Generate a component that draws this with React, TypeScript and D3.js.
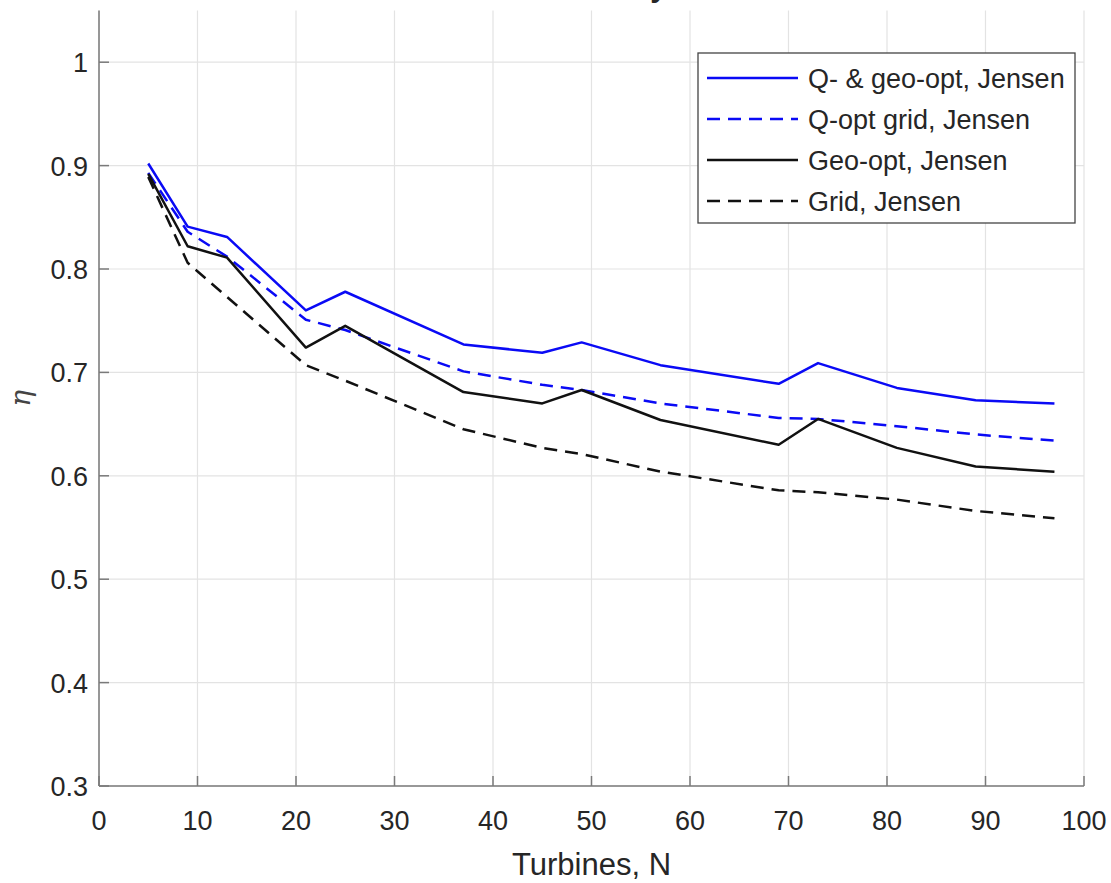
import React from "react";
import * as d3 from "d3";

const turbines = [5, 9, 13, 21, 25, 37, 45, 49, 57, 69, 73, 81, 89, 97];
const qGeoOpt = [0.902, 0.841, 0.831, 0.76, 0.778, 0.727, 0.719, 0.729, 0.707, 0.689, 0.709, 0.685, 0.673, 0.67];
const qOptGrid = [0.893, 0.836, 0.812, 0.751, 0.741, 0.701, 0.688, 0.683, 0.67, 0.656, 0.655, 0.648, 0.64, 0.634];
const geoOpt = [0.892, 0.822, 0.811, 0.724, 0.745, 0.681, 0.67, 0.683, 0.654, 0.63, 0.655, 0.627, 0.609, 0.604];
const grid = [0.889, 0.806, 0.773, 0.707, 0.692, 0.645, 0.627, 0.621, 0.604, 0.586, 0.584, 0.577, 0.566, 0.559];

const seriesNames = ["Q- & geo-opt, Jensen", "Q-opt grid, Jensen", "Geo-opt, Jensen", "Grid, Jensen"];
const xTicks = [0, 10, 20, 30, 40, 50, 60, 70, 80, 90, 100];
const yTicks = [0.3, 0.4, 0.5, 0.6, 0.7, 0.8, 0.9, 1];
const xLabel = "Turbines, N";
const yLabel = "η";
const titleText = "Efficiency";

const W = 1111;
const H = 883;
const FONT = "'Liberation Sans', Arial, Helvetica, sans-serif";
const TEXT = "#262626";
const AXIS = "#7a7a7a";

export default function App() {
  const x = d3.scaleLinear().domain([0, 100]).range([99, 1084]);
  const y = d3.scaleLinear().domain([0.3, 1.05]).range([786, 10.5]);

  const series = [
    { name: seriesNames[0], values: qGeoOpt, color: "#0a0af5", dash: undefined as string | undefined },
    { name: seriesNames[1], values: qOptGrid, color: "#0a0af5", dash: "13 8" },
    { name: seriesNames[2], values: geoOpt, color: "#111111", dash: undefined },
    { name: seriesNames[3], values: grid, color: "#111111", dash: "13 8" },
  ];

  const line = d3
    .line<[number, number]>()
    .x((d) => x(d[0]))
    .y((d) => y(d[1]));

  const [x0, x1] = x.range();
  const [yBottom, yTop] = y.range();

  const legend = { x: 698, y: 53, w: 377, h: 170 };
  const rowY = (i: number) => 78 + i * 41;

  return (
    <svg
      width={W}
      height={H}
      style={{ position: "absolute", left: 0, top: 0, background: "#fff" }}
      fontFamily={FONT}
    >
      <rect x={0} y={0} width={W} height={H} fill="#fff" />
      {/* title, cropped at the top edge as in the reference */}
      <text x={667} y={-3} textAnchor="end" fontSize={30} fontWeight="bold" fill={TEXT}>
        {titleText}
      </text>
      {/* grid */}
      {xTicks.map((t) => (
        <line key={"gx" + t} x1={x(t)} x2={x(t)} y1={yBottom} y2={yTop} stroke="#e3e3e3" strokeWidth={1.2} />
      ))}
      {yTicks.map((t) => (
        <line key={"gy" + t} x1={x0} x2={x1} y1={y(t)} y2={y(t)} stroke="#e3e3e3" strokeWidth={1.2} />
      ))}
      {/* data */}
      {series.map((s) => (
        <path
          key={s.name}
          d={line(turbines.map((t, i) => [t, s.values[i]] as [number, number])) || ""}
          fill="none"
          stroke={s.color}
          strokeWidth={2.5}
          strokeDasharray={s.dash}
          strokeLinejoin="round"
        />
      ))}
      {/* axes */}
      <line x1={x0} x2={x0} y1={yBottom} y2={yTop} stroke={AXIS} strokeWidth={1.5} />
      <line x1={x0} x2={x1} y1={yBottom} y2={yBottom} stroke={AXIS} strokeWidth={1.5} />
      {xTicks.map((t) => (
        <g key={"xt" + t}>
          <line x1={x(t)} x2={x(t)} y1={yBottom} y2={yBottom - 10} stroke={AXIS} strokeWidth={1.5} />
          <text x={x(t)} y={830} textAnchor="middle" fontSize={27} fill={TEXT}>
            {String(t)}
          </text>
        </g>
      ))}
      {yTicks.map((t) => (
        <g key={"yt" + t}>
          <line x1={x0} x2={x0 + 10} y1={y(t)} y2={y(t)} stroke={AXIS} strokeWidth={1.5} />
          <text x={88} y={y(t) + 10} textAnchor="end" fontSize={27} fill={TEXT}>
            {String(t)}
          </text>
        </g>
      ))}
      {/* axis labels */}
      <text x={(x0 + x1) / 2} y={875} textAnchor="middle" fontSize={31} fill={TEXT}>
        {xLabel}
      </text>
      <text
        transform={`translate(30, ${(yBottom + yTop) / 2}) rotate(-90)`}
        textAnchor="middle"
        fontSize={28}
        fontStyle="italic"
        fontFamily="'DejaVu Serif', serif"
        fill="#444"
      >
        {yLabel}
      </text>
      {/* legend */}
      <rect x={legend.x} y={legend.y} width={legend.w} height={legend.h} fill="#fff" stroke="#444" strokeWidth={1.3} />
      {series.map((s, i) => (
        <g key={"lg" + i}>
          <line
            x1={707}
            x2={798}
            y1={rowY(i)}
            y2={rowY(i)}
            stroke={s.color}
            strokeWidth={2.5}
            strokeDasharray={s.dash}
          />
          <text x={808} y={rowY(i) + 10} fontSize={27} fill={TEXT}>
            {s.name}
          </text>
        </g>
      ))}
    </svg>
  );
}
